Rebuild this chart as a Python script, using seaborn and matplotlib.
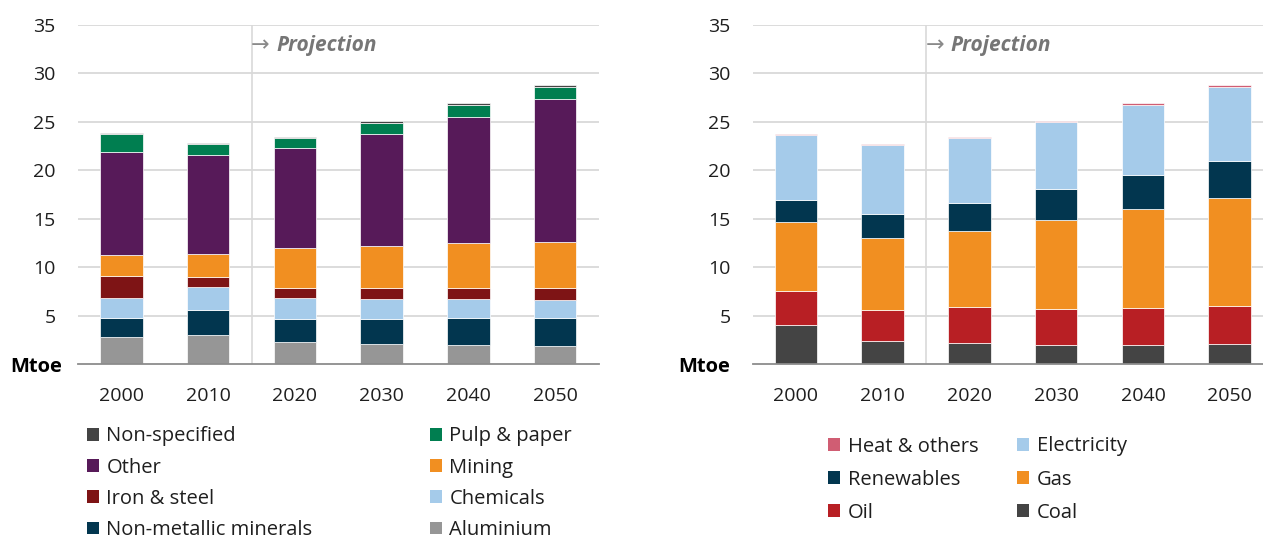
import numpy as np
import pandas as pd
import matplotlib
matplotlib.use("Agg")
import matplotlib.pyplot as plt
from matplotlib.patches import Patch
import seaborn as sns

# ---------------- data ----------------
years = ["2000", "2010", "2020", "2030", "2040", "2050"]

# left panel (stack order bottom -> top)
aluminium     = [2.82, 3.03, 2.30, 2.10, 1.99, 1.89]
non_metallic  = [1.96, 2.57, 2.38, 2.58, 2.79, 2.89]
chemicals     = [2.06, 2.38, 2.16, 2.06, 1.96, 1.85]
iron_steel    = [2.24, 1.03, 1.03, 1.13, 1.13, 1.24]
mining        = [2.20, 2.37, 4.13, 4.33, 4.64, 4.75]
other         = [10.65, 10.17, 10.34, 11.59, 13.03, 14.78]
pulp_paper    = [1.79, 1.14, 0.97, 1.13, 1.24, 1.24]
non_specified = [0.14, 0.14, 0.13, 0.14, 0.14, 0.13]

# right panel (stack order bottom -> top)
coal        = [4.06, 2.41, 2.20, 1.99, 1.99, 2.10]
oil         = [3.50, 3.19, 3.71, 3.72, 3.82, 3.92]
gas         = [7.08, 7.43, 7.84, 9.17, 10.21, 11.13]
renewables  = [2.27, 2.44, 2.89, 3.17, 3.51, 3.79]
electricity = [6.74, 7.15, 6.74, 6.91, 7.25, 7.70]
heat_others = [0.10, 0.10, 0.10, 0.10, 0.14, 0.13]

left_series = [
    ("Aluminium", aluminium, "#969696"),
    ("Non-metallic minerals", non_metallic, "#02364F"),
    ("Chemicals", chemicals, "#A5CBEA"),
    ("Iron & steel", iron_steel, "#7E1415"),
    ("Mining", mining, "#F18F21"),
    ("Other", other, "#571A59"),
    ("Pulp & paper", pulp_paper, "#007E50"),
    ("Non-specified", non_specified, "#444444"),
]
right_series = [
    ("Coal", coal, "#444444"),
    ("Oil", oil, "#B81F24"),
    ("Gas", gas, "#F18F21"),
    ("Renewables", renewables, "#02364F"),
    ("Electricity", electricity, "#A5CBEA"),
    ("Heat & others", heat_others, "#D05D73"),
]
left_legend_cols = [["Non-specified", "Other", "Iron & steel", "Non-metallic minerals"],
                    ["Pulp & paper", "Mining", "Chemicals", "Aluminium"]]
right_legend_cols = [["Heat & others", "Renewables", "Oil"],
                     ["Electricity", "Gas", "Coal"]]

# ---------------- style ----------------
sns.set_theme(style="white")
plt.rcParams["font.family"] = ["Open Sans", "DejaVu Sans"]
FS = 14
LFS = 14.5
TXT = "#1E1E1E"

W, H = 1263, 542
fig = plt.figure(figsize=(W / 100, H / 100), dpi=100)

def fx(px):
    return px / W

def fy(py):
    return 1 - py / H

def make_panel(left_px, series, legend_cols, leg_x, leg_top, leg_spacing, mtoe_right):
    top_px, bottom_px = 25, 364
    width_px = 520.5
    ax = fig.add_axes([fx(left_px), fy(bottom_px), width_px / W, (bottom_px - top_px) / H])
    bottom = np.zeros(len(years))
    for name, vals, col in series:
        df = pd.DataFrame({"year": years, "value": vals})
        sns.barplot(data=df, x="year", y="value", order=years, color=col,
                    saturation=1, width=0.49, bottom=bottom, ax=ax,
                    edgecolor="white", linewidth=0.5, zorder=3)
        bottom = bottom + np.array(vals)
    ax.set_xlim(-0.5, 5.5)
    ax.set_ylim(0, 35)
    ax.set_yticks([5, 10, 15, 20, 25, 30, 35])
    ax.set_xlabel("")
    ax.set_ylabel("")
    ax.yaxis.grid(True, color="#D9D9D9", linewidth=1.3, zorder=0)
    ax.set_axisbelow(True)
    for s in ["top", "right", "left"]:
        ax.spines[s].set_visible(False)
    ax.spines["bottom"].set_color("#8C8C8C")
    ax.spines["bottom"].set_linewidth(1.3)
    ax.spines["bottom"].set_zorder(4)
    ax.tick_params(axis="both", length=0, labelsize=FS, labelcolor=TXT)
    ax.tick_params(axis="y", pad=16)
    ax.tick_params(axis="x", pad=16.5)
    ax.axvline(1.5, color="#D9D9D9", linewidth=1.2, zorder=1)
    # projection label
    fig.text(fx(left_px + 173), fy(45), "→", family="DejaVu Sans", fontsize=16,
             color="#8A8A8A", ha="left", va="center")
    fig.text(fx(left_px + 198), fy(45), "Projection", fontsize=15, fontweight="bold",
             fontstyle="italic", color="#767676", ha="left", va="center")
    fig.text(fx(mtoe_right), fy(366.5), "Mtoe", fontsize=14.5, fontweight="bold",
             color="#000000", ha="right", va="center")
    colors = {name: col for name, _, col in series}
    for cx, names in zip(leg_x, legend_cols):
        handles = [Patch(facecolor=colors[n], edgecolor="none", label=n) for n in names]
        fig.legend(handles=handles, loc="upper left", bbox_to_anchor=(fx(cx), fy(leg_top)),
                   bbox_transform=fig.transFigure, frameon=False, fontsize=LFS,
                   handlelength=0.6, handleheight=0.6, handletextpad=0.36,
                   labelspacing=leg_spacing, borderpad=0, borderaxespad=0,
                   labelcolor=TXT)
    return ax

make_panel(78, left_series, left_legend_cols, [87, 430], 426.5, 0.555, 62)
make_panel(752.6, right_series, right_legend_cols, [828.3, 1017.3], 436.5, 0.655, 730)

fig.savefig("out.png", dpi=100, facecolor="white")
